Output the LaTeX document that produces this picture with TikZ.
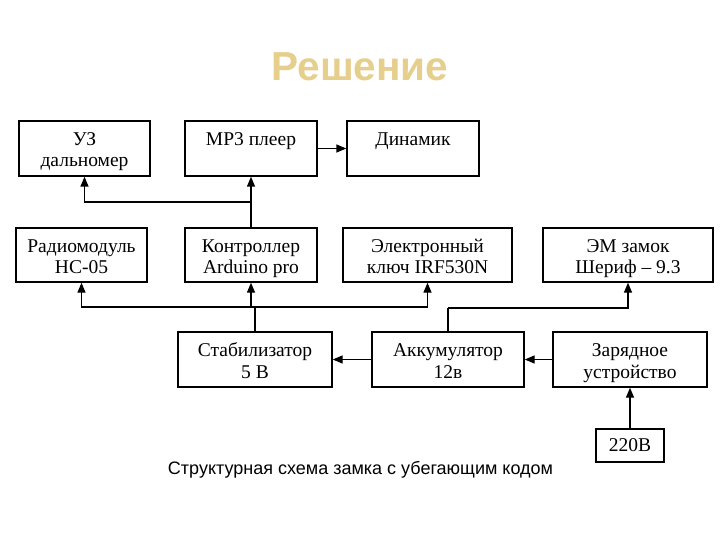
\documentclass[tikz,border=0pt]{standalone}
\usepackage{fontspec}
\setmainfont{Liberation Serif}
\newfontfamily\headfont{Liberation Sans}
\usetikzlibrary{arrows.meta}

\definecolor{titlegold}{RGB}{230,206,140}

\begin{document}
\begin{tikzpicture}[x=1pt,y=-1pt,
    box/.style={draw, line width=1.4pt, align=center, inner sep=0pt,
                font=\fontsize{19.5}{21.5}\selectfont},
    block/.style={box, minimum height=55,
                  execute at begin node=\rule{0pt}{43pt},
                  execute at end node=\rule[-6pt]{0pt}{6pt}},
    wire/.style={line width=1.4pt},
    conn/.style={wire, -{Triangle[length=10pt,width=8pt]}}]
\useasboundingbox (0,0) rectangle (720,540);

\node[font=\headfont\bfseries\fontsize{40.5}{42}\selectfont, text=titlegold] (title) at (360,67) {Решение};

% top row
\node[block, minimum width=131] (uz)  at (84.5,148.5) {УЗ\\дальномер};
\node[block, minimum width=132] (mp3) at (251,148.5)  {MP3 плеер\\\mbox{}};
\node[block, minimum width=132] (din) at (413,148.5)  {Динамик\\\mbox{}};

% middle row
\node[block, minimum width=131, minimum height=54] (radio) at (81.5,255) {Радиомодуль\\HC-05};
\node[block, minimum width=132, minimum height=54] (ctrl)  at (251,255)  {Контроллер\\Arduino pro};
\node[block, minimum width=169, minimum height=54] (key)   at (427.5,255) {Электронный\\ключ IRF530N};
\node[block, minimum width=170, minimum height=54] (lock)  at (628,255)  {ЭМ замок\\Шериф -- 9.3};

% bottom row
\node[block, minimum width=154] (stab) at (255,359.5) {Стабилизатор\\5 В};
\node[block, minimum width=152] (akk)  at (448,359.5) {Аккумулятор\\12в};
\node[block, minimum width=154] (zar)  at (630,359.5) {Зарядное\\устройство};
\node[box, minimum width=68, minimum height=33] (v220) at (630,445.5) {220В};

\node[font=\headfont\fontsize{18}{20}\selectfont] (caption) at (360.5,470) {Структурная схема замка с убегающим кодом};

% connections
\coordinate (split) at (251,202);
\draw[conn] (ctrl.north) -- (mp3.south);
\draw[conn] (split) -| (uz.south);
\draw[conn] (mp3.east) -- (din.west);

\coordinate (bus) at (255,307);
\draw[wire] (stab.north) -- (bus);
\draw[conn] (bus) -| (radio.south);
\draw[conn] (bus) -| (key.south);
\draw[conn] (ctrl.south |- bus) -- (ctrl.south);

\coordinate (akkbus) at (448,308);
\draw[wire] (akk.north) -- (akkbus);
\draw[conn] (akkbus) -| (lock.south);

\draw[conn] (akk.west) -- (stab.east);
\draw[conn] (zar.west) -- (akk.east);
\draw[conn] (v220.north) -- (zar.south);
\end{tikzpicture}
\end{document}
